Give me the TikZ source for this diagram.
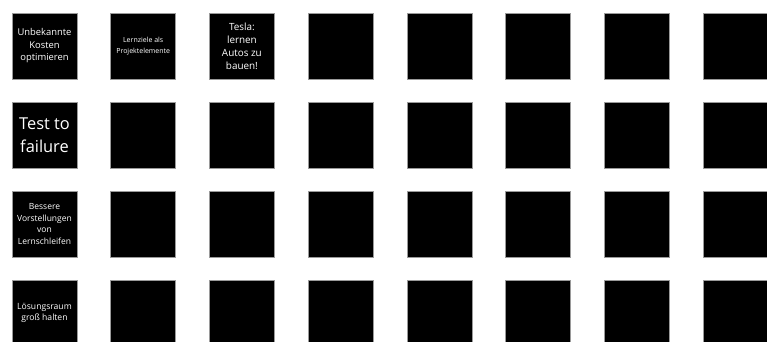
\documentclass[tikz,border=0pt]{standalone}
\usepackage{fontspec}
\setmainfont{Open Sans}
\usetikzlibrary{positioning}
\definecolor{gbCard}{HTML}{000000}
\definecolor{gbEdge}{HTML}{9A9A9A}
\definecolor{gbInk}{HTML}{FFFFFF}
\newlength{\gbCardW}
\setlength{\gbCardW}{65pt}
\newlength{\gbCardH}
\setlength{\gbCardH}{66pt}
\newcommand{\gbsize}[2]{\fontsize{#1}{#2}\selectfont}
\tikzset{
  gbcard/.style={
    fill=gbCard, draw=gbEdge, line width=0.6pt, minimum width=\gbCardW,
    minimum height=\gbCardH, inner sep=0pt, anchor=center,
  },
  gbtext/.style={
    text=gbInk, align=center, inner sep=0pt, anchor=center,
  },
}

\begin{document}
\begin{tikzpicture}[x=1pt, y=1pt]

\useasboundingbox (0,0) rectangle (767,-342);

% Grid of cards -----------------------------------------------------------
\foreach \r in {0,...,3}{%
  \foreach \c in {0,...,7}{%
    \node[gbcard] (n\r\c) at ({44.5+98.7*\c},{-46-89*\r}) {};
  }
}

% Labels ------------------------------------------------------------------
\node[gbtext, font=\gbsize{9.4}{12.5}] (t00) at (n00) {Unbekannte\\Kosten\\optimieren};
\node[gbtext, font=\gbsize{7}{10.7}] (t01) at (n01) {Lernziele als\\Projektelemente};
\node[gbtext, font=\gbsize{9.9}{13}] (t02) at (n02) {Tesla:\\lernen\\Autos zu\\bauen!};
\node[gbtext, font=\gbsize{16.4}{23}] (t10) at (n10) {Test to\\failure};
\node[gbtext, font=\gbsize{8.5}{11.9}] (t20) at (n20) {Bessere\\Vorstellungen\\von\\Lernschleifen};
\node[gbtext, font=\gbsize{8.6}{11.7}] (t30) at (n30) {Lösungsraum\\groß halten};

\end{tikzpicture}
\end{document}
